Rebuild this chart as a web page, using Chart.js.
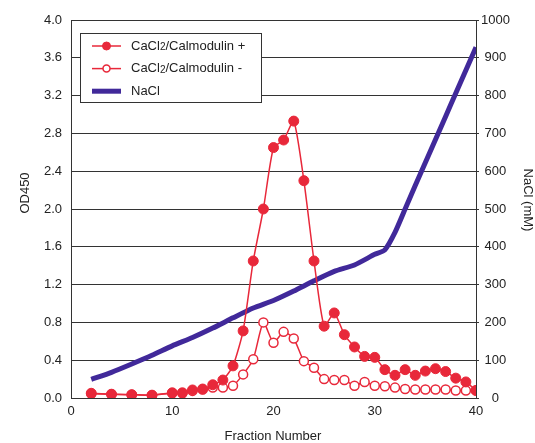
<!DOCTYPE html>
<html>
<head>
<meta charset="utf-8">
<script src="https://cdn.jsdelivr.net/npm/chart.js@4.4.4/dist/chart.umd.min.js"></script>
<style>
  html, body { margin: 0; padding: 0; background: #fff; }
  #wrap { width: 535px; height: 443px; }
</style>
</head>
<body>
<div id="wrap"><canvas id="elution" width="535" height="443"></canvas></div>
<script>
// Elution profile: OD450 of each fraction with / without CaCl2-calmodulin,
// plus the NaCl gradient on the right-hand axis.
const FRACTIONS = [2, 4, 6, 8, 10, 11, 12, 13, 14, 15, 16, 17, 18, 19, 20, 21, 22, 23, 24, 25,
  26, 27, 28, 29, 30, 31, 32, 33, 34, 35, 36, 37, 38, 39, 40];
const OD_PLUS = [0.05, 0.04, 0.035, 0.03, 0.055, 0.055, 0.085, 0.095, 0.14, 0.19, 0.34, 0.71, 1.45, 2.0, 2.65, 2.73, 2.93, 2.30, 1.45, 0.76,
  0.90, 0.67, 0.54, 0.44, 0.43, 0.30, 0.24, 0.30, 0.24, 0.285, 0.31, 0.28, 0.21, 0.17, 0.08];
const OD_MINUS = [0.045, 0.04, 0.035, 0.03, 0.05, 0.05, 0.075, 0.09, 0.11, 0.11, 0.13, 0.25, 0.41, 0.80, 0.585, 0.70, 0.63, 0.39, 0.32, 0.20,
  0.19, 0.19, 0.13, 0.17, 0.13, 0.125, 0.11, 0.095, 0.09, 0.09, 0.09, 0.09, 0.08, 0.08, 0.08];

const NACL_FRACTIONS = [2, 4, 6, 8, 10, 12, 14, 16, 18, 20, 22, 24, 26, 28, 30, 31, 32, 33, 34, 35, 36, 37, 38, 39, 40];
const NACL_MM = [49, 68, 90, 113, 138, 160, 185, 212, 238, 258, 283, 310, 335, 352, 380, 392, 438, 500, 562, 623, 684, 745, 806, 867, 928];

const LABELS = ['CaCl2/Calmodulin +', 'CaCl2/Calmodulin -', 'NaCl'];
const AXIS_TITLES = { x: 'Fraction Number', y: 'OD450', y1: 'NaCl (mM)' };

const RED = '#e8283a';
const PURPLE = '#41299a';
const FONT = '"Liberation Sans", Arial, Helvetica, sans-serif';

const toPoints = (xs, ys) => xs.map((x, i) => ({ x, y: ys[i] }));

// draws "CaCl2..." with the 2 set smaller and dropped a little
function drawRichLabel(ctx, text, x, y) {
  const parts = text.split(/(?<=Cl)(2)/);
  let cx = x;
  parts.forEach((p, i) => {
    const sub = i % 2 === 1;
    ctx.font = `${sub ? 10 : 13}px ${FONT}`;
    ctx.fillText(p, cx, y + (sub ? 1.5 : 0));
    cx += ctx.measureText(p).width;
  });
}

const legendBox = {
  id: 'legendBox',
  afterDatasetsDraw(chart) {
    const { ctx } = chart;
    ctx.save();
    ctx.fillStyle = '#fff';
    ctx.strokeStyle = '#333';
    ctx.lineWidth = 1;
    ctx.fillRect(80.5, 33.5, 181, 69);
    ctx.strokeRect(80.5, 33.5, 181, 69);

    chart.data.datasets.forEach((ds, i) => {
      const y = 46 + i * 22.6;
      ctx.strokeStyle = ds.borderColor;
      ctx.lineWidth = ds.borderWidth;
      ctx.beginPath();
      ctx.moveTo(92, y);
      ctx.lineTo(121, y);
      ctx.stroke();
      if (ds.pointRadius > 0) {
        ctx.beginPath();
        ctx.arc(106.5, y, ds.pointRadius - 1, 0, Math.PI * 2);
        ctx.fillStyle = ds.pointBackgroundColor;
        ctx.fill();
        ctx.lineWidth = ds.pointBorderWidth;
        ctx.strokeStyle = ds.pointBorderColor;
        ctx.stroke();
      }
      ctx.fillStyle = '#222';
      ctx.textBaseline = 'middle';
      ctx.textAlign = 'left';
      drawRichLabel(ctx, ds.label, 131, y);
    });
    ctx.restore();
  },
};

const axisTitles = {
  id: 'axisTitles',
  afterDraw(chart) {
    const { ctx } = chart;
    ctx.save();
    ctx.fillStyle = '#222';
    ctx.font = `13px ${FONT}`;
    ctx.textAlign = 'center';
    ctx.textBaseline = 'middle';
    ctx.fillText(AXIS_TITLES.x, 273, 436);

    ctx.translate(25, 193);
    ctx.rotate(-Math.PI / 2);
    ctx.fillText(AXIS_TITLES.y, 0, 0);
    ctx.restore();

    ctx.save();
    ctx.fillStyle = '#222';
    ctx.font = `13px ${FONT}`;
    ctx.textAlign = 'center';
    ctx.textBaseline = 'middle';
    ctx.translate(528, 200);
    ctx.rotate(Math.PI / 2);
    ctx.fillText(AXIS_TITLES.y1, 0, 0);
    ctx.restore();
  },
};

const tickFont = { family: FONT, size: 13 };

new Chart(document.getElementById('elution'), {
  type: 'line',
  data: {
    datasets: [
      {
        label: LABELS[0],
        data: toPoints(FRACTIONS, OD_PLUS),
        yAxisID: 'y',
        borderColor: RED,
        borderWidth: 1.5,
        pointRadius: 5,
        pointBackgroundColor: RED,
        pointBorderColor: RED,
        pointBorderWidth: 1,
        tension: 0.2,
      },
      {
        label: LABELS[1],
        data: toPoints(FRACTIONS, OD_MINUS),
        yAxisID: 'y',
        borderColor: RED,
        borderWidth: 1.5,
        pointRadius: 4.5,
        pointBackgroundColor: '#fff',
        pointBorderColor: RED,
        pointBorderWidth: 1.5,
        tension: 0.2,
      },
      {
        label: LABELS[2],
        data: toPoints(NACL_FRACTIONS, NACL_MM),
        yAxisID: 'y1',
        borderColor: PURPLE,
        borderWidth: 5,
        pointRadius: 0,
        tension: 0.2,
      },
    ],
  },
  options: {
    responsive: false,
    animation: false,
    layout: { padding: { top: 20, left: 0, right: 0, bottom: 0 } },
    plugins: { legend: { display: false }, tooltip: { enabled: false } },
    scales: {
      x: {
        type: 'linear',
        min: 0,
        max: 40,
        ticks: { stepSize: 10, color: '#222', font: tickFont, padding: 6, maxRotation: 0 },
        grid: { display: false, drawTicks: false },
        border: { color: '#333', width: 1 },
        afterFit: (s) => { s.height = 45; },
      },
      y: {
        position: 'left',
        min: 0,
        max: 4,
        ticks: { stepSize: 0.4, color: '#222', font: tickFont, padding: 9, callback: (v) => v.toFixed(1) },
        grid: { color: '#333', drawTicks: false },
        border: { color: '#333', width: 1 },
        afterFit: (s) => { s.width = 71; },
      },
      y1: {
        position: 'right',
        min: 0,
        max: 1000,
        ticks: { stepSize: 100, color: '#222', font: tickFont, padding: 2, crossAlign: 'center', callback: (v) => String(v) },
        grid: { drawOnChartArea: false, tickLength: 3, color: '#333' },
        border: { color: '#333', width: 1 },
        afterFit: (s) => { s.width = 59; },
      },
    },
  },
  plugins: [legendBox, axisTitles],
});
</script>
</body>
</html>
